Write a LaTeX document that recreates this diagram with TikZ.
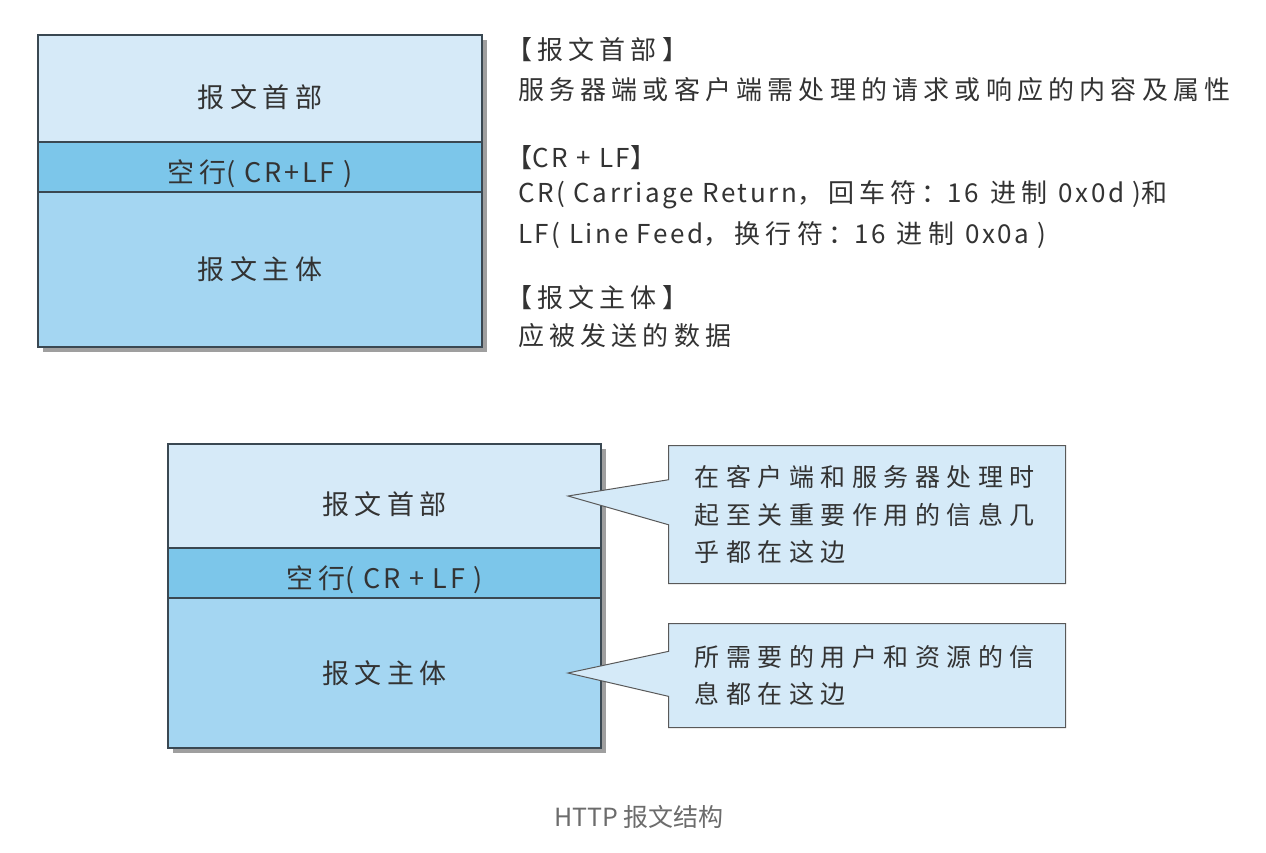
\documentclass[tikz,border=0pt]{standalone}
\usepackage{fontspec}
\usepackage{xcolor}
\usepackage{tikz}
\usetikzlibrary{positioning,shapes.callouts,shadows}
\setmainfont{Noto Sans CJK SC}
\newfontfamily\cjkwide[LetterSpace=20]{Noto Sans CJK SC}
\newfontfamily\cjknote[LetterSpace=26]{Noto Sans CJK SC}
\newfontfamily\plainfont[LetterSpace=10]{Noto Sans CJK SC}
\newcommand{\ltn}[1]{{\plainfont #1}}
\definecolor{headcolor}{RGB}{214,234,248}
\definecolor{crlfcolor}{RGB}{124,198,234}
\definecolor{bodycolor}{RGB}{164,214,242}
\definecolor{notecolor}{RGB}{213,234,248}
\definecolor{edgecolor}{RGB}{58,72,82}
\definecolor{txtcolor}{RGB}{51,51,51}

\begin{document}
\begin{tikzpicture}[x=1pt, y=-1pt,
  band/.style={rectangle, draw=edgecolor, line width=1.2pt, fill=#1,
               inner sep=0pt, outer sep=0pt, text=txtcolor,
               font=\cjkwide\fontsize{27}{32}\selectfont,
               drop shadow={shadow xshift=5pt, shadow yshift=-5pt, fill=gray!75, opacity=1}},
  note/.style={rectangle callout, draw=gray!70!black, line width=1pt, fill=notecolor,
               callout pointer width=45pt, minimum width=397pt, text width=345pt,
               inner xsep=26pt, inner ysep=0pt, align=left, text=txtcolor,
               font=\cjknote\fontsize{25}{37.5}\selectfont},
  lbl/.style={anchor=west, inner sep=0pt, text=txtcolor,
              font=\cjkwide\fontsize{26}{30}\selectfont}
]
  % Canvas
  \useasboundingbox[fill=white] (0,0) rectangle (1266,852);

  % Upper message box
  \node[band=headcolor, minimum width=444pt, minimum height=107pt, text height=37pt, text depth=0pt,
        anchor=north west] (head1) at (38,35) {报文首部};
  \node[band=crlfcolor, minimum width=444pt, minimum height=50pt, text height=30pt, text depth=0pt,
        below=0pt of head1] (crlf1) {空行\ltn{( CR+LF )}};
  \node[band=bodycolor, minimum width=444pt, minimum height=155pt, below=0pt of crlf1] (body1) {报文主体};

  % Explanations beside it
  \node[lbl] (t1) at (506,50) {【报文首部】};
  \node[lbl] (t2) at (518,90) {服务器端或客户端需处理的请求或响应的内容及属性};
  \node[lbl] (t3) at (506,158) {【\ltn{CR + LF}】};
  \node[lbl] (t4) at (518,195) {\ltn{CR( Carriage Return}，回车符：\ltn{16} 进制 \ltn{0x0d )}和};
  \node[lbl] (t5) at (518,235) {\ltn{LF( Line Feed}，换行符：\ltn{16} 进制 \ltn{0x0a )}};
  \node[lbl] (t6) at (506,298) {【报文主体】};
  \node[lbl] (t7) at (518,336) {应被发送的数据};

  % Lower message box
  \node[band=headcolor, minimum width=433pt, minimum height=104pt, text height=37pt, text depth=0pt,
        anchor=north west] (head2) at (168,444) {报文首部};
  \node[band=crlfcolor, minimum width=433pt, minimum height=50pt, text height=30pt, text depth=0pt,
        below=0pt of head2] (crlf2) {空行\ltn{( CR + LF )}};
  \node[band=bodycolor, minimum width=433pt, minimum height=150pt, below=0pt of crlf2] (body2) {报文主体};

  % Callouts
  \node[note, minimum height=138pt, anchor=north west,
        callout absolute pointer={([xshift=-33pt]head2.east)}] (n1) at (668,445)
        {在客户端和服务器处理时\\起至关重要作用的信息几\\乎都在这边};
  \node[note, minimum height=104pt, anchor=north west,
        callout absolute pointer={([xshift=-33pt]body2.east)}] (n2) at (668,623)
        {所需要的用户和资源的信\\息都在这边};

  % Caption
  \node[text=gray!85!black, font=\fontsize{25}{29}\selectfont] (cap) at (639,817) {HTTP 报文结构};
\end{tikzpicture}
\end{document}
